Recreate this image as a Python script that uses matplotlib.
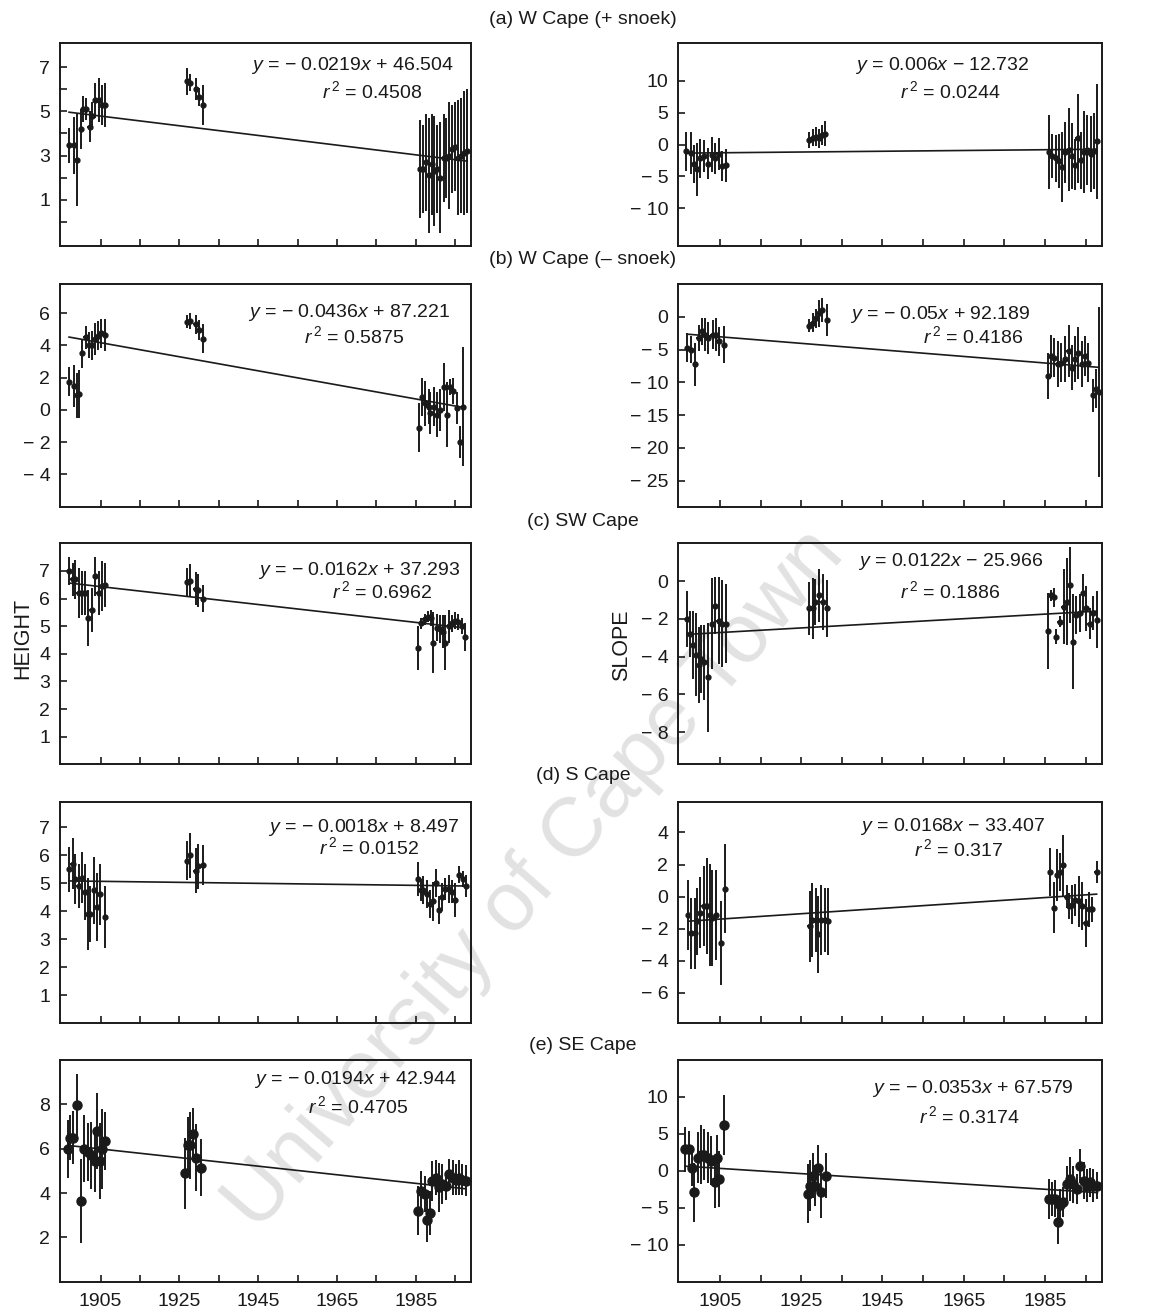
import matplotlib
matplotlib.use("Agg")
import matplotlib.pyplot as plt
import numpy as np
from matplotlib.ticker import FixedLocator, FuncFormatter

plt.rcParams["font.family"] = ["Liberation Sans", "DejaVu Sans"]
plt.rcParams["mathtext.fontset"] = "custom"
plt.rcParams["mathtext.rm"] = "Liberation Sans"
plt.rcParams["mathtext.it"] = "Liberation Sans:italic"

# ---- data ------------------------------------------------------------------
# (a) W Cape (+ snoek)
a_h_year = [1897.0, 1898.3, 1898.9, 1900.0, 1900.6, 1901.4, 1902.2, 1902.9, 1903.7, 1904.5, 1905.3, 1906.1,
            1926.9, 1927.7, 1929.3, 1929.9, 1931.1,
            1986.0, 1986.8, 1987.5, 1988.2, 1989.0, 1989.7, 1990.4, 1991.2, 1992.0, 1992.7, 1993.4, 1994.2,
            1995.0, 1995.7, 1996.5, 1997.3, 1998.0]
a_h_val = [3.46, 3.46, 2.8, 4.2, 5.1, 5.1, 4.3, 4.8, 5.5, 5.5, 5.3, 5.3,
           6.35, 6.3, 6.0, 5.65, 5.3,
           2.4, 2.4, 2.7, 2.1, 2.6, 2.3, 2.4, 2.0, 2.9, 2.9, 3.0, 3.3, 3.4, 2.9, 3.0, 3.1, 3.2]
a_h_err = [0.8, 1.3, 2.1, 0.9, 0.6, 0.5, 0.7, 0.6, 0.8, 1.0, 0.9, 1.0,
           0.6, 0.4, 0.5, 0.4, 0.9,
           2.2, 2.0, 2.2, 2.6, 2.3, 2.5, 2.0, 2.5, 2.0, 1.8, 2.4, 2.0, 2.0, 2.6, 2.6, 2.8, 2.8]

a_s_year = [1896.7, 1897.8, 1898.6, 1899.4, 1900.2, 1901.1, 1902.1, 1903.1, 1903.9, 1904.7, 1905.6, 1906.4,
            1927.0, 1927.8, 1928.6, 1929.4, 1930.2, 1930.9,
            1986.0, 1986.8, 1987.6, 1988.4, 1989.2, 1990.0, 1990.8, 1991.6, 1992.4, 1993.0, 1993.8, 1994.6,
            1995.4, 1996.2, 1997.0, 1997.8]
a_s_val = [-1.1, -1.3, -3.0, -3.9, -2.2, -1.8, -3.0, -1.6, -2.2, -1.5, -3.4, -3.3,
           0.7, 1.1, 1.2, 1.0, 1.5, 1.7,
           -1.2, -1.8, -2.2, -2.6, -3.5, -1.2, -0.8, -1.8, -3.2, 1.0, -2.5, -1.2, -0.8, -1.5, -1.0, 0.5]
a_s_err = [3.0, 3.3, 3.0, 4.2, 3.0, 2.5, 2.5, 2.8, 2.5, 2.5, 2.3, 2.6,
           1.2, 1.3, 1.5, 1.5, 1.6, 2.0,
           5.8, 3.5, 3.7, 4.2, 5.5, 4.8, 6.5, 5.2, 4.0, 7.0, 4.5, 6.5, 5.5, 6.0, 6.0, 9.0]

# (b) W Cape (- snoek)
b_h_year = [1897.0, 1898.3, 1898.9, 1899.4, 1900.4, 1901.2, 1902.1, 1902.7, 1903.5, 1904.4, 1905.2, 1906.0,
            1926.9, 1927.8, 1929.1, 1929.9, 1931.1,
            1985.7, 1986.5, 1987.3, 1988.2, 1988.7, 1989.5, 1990.4, 1991.2, 1992.2, 1993.0, 1993.7, 1994.5,
            1995.4, 1996.2, 1997.0]
b_h_val = [1.75, 1.45, 0.9, 1.0, 3.5, 4.5, 4.0, 4.0, 4.4, 4.6, 4.75, 4.65,
           5.45, 5.5, 5.3, 4.95, 4.4,
           -1.1, 0.8, 0.4, 0.2, -0.2, 0.2, -0.3, 0.0, 1.4, -0.3, 1.4, 1.15, 0.1, -2.0, 0.2]
b_h_err = [0.9, 1.3, 1.4, 1.5, 0.9, 0.7, 0.8, 0.9, 1.0, 0.9, 0.9, 1.0,
           0.4, 0.5, 0.6, 0.6, 0.9,
           1.5, 1.2, 1.4, 1.1, 1.3, 1.2, 1.4, 1.3, 1.5, 2.0, 0.5, 0.8, 1.0, 1.0, 3.7]

b_s_year = [1896.9, 1898.0, 1899.0, 1899.8, 1900.6, 1901.4, 1902.2, 1903.2, 1904.0, 1904.8, 1906.1,
            1927.0, 1927.8, 1928.6, 1929.5, 1930.1, 1931.4,
            1985.7, 1986.5, 1987.3, 1988.1, 1989.0, 1990.0, 1990.8, 1991.6, 1992.4, 1993.2, 1994.1, 1994.9,
            1995.7, 1996.8, 1997.6, 1998.2]
b_s_val = [-4.75, -5.0, -7.25, -3.25, -2.25, -2.75, -3.25, -2.75, -2.75, -3.75, -4.25,
           -1.4, -0.9, -0.25, 0.5, 1.0, -0.5,
           -9.0, -6.0, -6.25, -7.25, -7.0, -6.5, -5.25, -7.75, -6.5, -5.5, -7.25, -6.0, -7.0, -12.0, -11.0, -11.5]
b_s_err = [2.2, 2.0, 3.3, 2.0, 2.0, 2.5, 2.5, 2.2, 2.5, 2.2, 2.8,
           1.0, 1.5, 1.5, 2.0, 1.8, 2.5,
           3.5, 3.2, 3.0, 3.5, 3.0, 3.5, 4.0, 3.5, 3.5, 4.0, 3.5, 3.0, 3.0, 2.5, 3.0, 13.0]

# (c) SW Cape
c_h_year = [1897.0, 1897.9, 1898.5, 1899.4, 1900.2, 1901.0, 1901.9, 1902.7, 1903.7, 1904.5, 1905.3, 1906.0,
            1926.9, 1927.7, 1929.1, 1929.8, 1930.9,
            1985.5, 1986.4, 1987.2, 1988.0, 1988.9, 1989.4, 1990.3, 1991.1, 1991.9, 1992.5, 1993.3, 1994.2,
            1995.0, 1995.8, 1996.7, 1997.5]
c_h_val = [7.0, 6.7, 6.7, 6.2, 6.2, 6.2, 5.3, 5.6, 6.8, 6.2, 6.45, 6.5,
           6.6, 6.65, 6.35, 6.3, 6.0,
           4.2, 5.1, 5.25, 5.35, 5.3, 4.4, 4.95, 4.9, 4.8, 4.4, 5.0, 5.1, 5.2, 5.15, 5.0, 4.6]
c_h_err = [0.5, 0.6, 0.7, 0.9, 0.8, 0.8, 1.0, 0.8, 0.7, 0.8, 0.9, 0.8,
           0.5, 0.6, 0.6, 0.6, 0.5,
           0.8, 0.2, 0.2, 0.2, 0.3, 1.1, 0.5, 0.5, 0.6, 1.0, 0.6, 0.3, 0.3, 0.3, 0.3, 0.5]

c_s_year = [1896.9, 1897.7, 1898.4, 1899.2, 1899.8, 1900.4, 1901.2, 1902.1, 1903.1, 1903.9, 1904.7, 1905.6, 1906.4,
            1927.0, 1927.8, 1928.4, 1929.4, 1930.3, 1931.3,
            1985.8, 1986.5, 1987.2, 1987.8, 1988.6, 1989.6, 1990.3, 1991.1, 1991.9, 1992.7, 1993.6, 1994.4,
            1995.2, 1996.0, 1996.8, 1997.8]
c_s_val = [-2.0, -2.8, -3.4, -3.9, -4.45, -4.1, -4.3, -5.1, -2.25, -1.3, -2.1, -2.25, -2.25,
           -1.45, -1.45, -1.1, -0.75, -1.1, -1.45,
           -2.65, -0.75, -0.85, -2.95, -2.15, -1.35, -1.1, -0.2, -3.2, -1.8, -1.7, -0.65, -1.45, -2.25, -1.7, -2.05]
c_s_err = [1.5, 1.2, 1.8, 2.2, 2.0, 1.8, 2.0, 2.9, 2.4, 1.5, 2.3, 2.3, 2.1,
           1.4, 1.6, 1.2, 1.4, 1.5, 1.5,
           2.0, 0.3, 0.5, 0.4, 0.3, 2.0, 2.3, 2.0, 2.5, 1.0, 1.0, 1.0, 1.2, 0.8, 0.9, 1.5]

# (d) S Cape
d_h_year = [1897.0, 1897.9, 1898.5, 1899.4, 1900.2, 1901.0, 1901.7, 1902.4, 1903.3, 1904.1, 1904.9, 1906.1,
            1926.9, 1927.7, 1929.1, 1929.8, 1931.1,
            1985.5, 1986.2, 1986.9, 1987.7, 1988.6, 1989.4, 1990.0, 1990.8, 1991.6, 1992.5, 1993.3, 1994.1,
            1995.0, 1996.0, 1996.9, 1997.7]
d_h_val = [5.5, 5.7, 5.15, 4.9, 5.2, 4.7, 3.9, 3.9, 4.75, 4.15, 4.6, 3.8,
           5.8, 6.0, 5.45, 5.6, 5.65,
           5.15, 4.75, 4.75, 4.6, 4.25, 4.35, 5.0, 4.05, 4.5, 4.8, 4.8, 4.7, 4.4, 5.3, 5.15, 4.9]
d_h_err = [0.8, 0.9, 0.9, 0.8, 0.9, 1.0, 1.3, 1.0, 1.2, 1.2, 1.1, 1.1,
           0.7, 0.8, 0.8, 0.8, 0.7,
           0.6, 0.4, 0.5, 0.5, 0.5, 0.7, 0.5, 0.5, 0.5, 0.4, 0.5, 0.4, 0.6, 0.3, 0.3, 0.4]

d_s_year = [1897.2, 1898.0, 1898.8, 1899.4, 1900.2, 1901.0, 1901.8, 1902.5, 1903.1, 1904.0, 1905.3, 1906.2,
            1927.1, 1927.7, 1928.6, 1929.1, 1929.9, 1930.8, 1931.6,
            1986.2, 1987.2, 1988.0, 1988.8, 1989.5, 1990.3, 1990.9, 1991.7, 1992.5, 1993.3, 1994.2, 1995.0,
            1995.8, 1996.6, 1997.7]
d_s_val = [-1.15, -2.3, -2.3, -1.55, -1.0, -0.6, -0.6, -1.15, -1.35, -1.15, -2.9, 0.5,
           -1.85, -1.45, -1.45, -2.35, -1.45, -1.45, -1.55,
           1.55, -0.7, 1.35, 1.55, 1.95, 0.0, -0.6, -0.5, -0.2, -0.3, -0.6, -1.65, -0.8, -0.8, 1.55]
d_s_err = [2.2, 2.2, 2.2, 2.1, 2.2, 2.5, 3.0, 3.2, 3.0, 2.8, 2.6, 2.8,
           2.2, 2.3, 2.0, 2.4, 2.2, 2.0, 2.1,
           1.5, 1.6, 1.6, 1.2, 1.9, 0.7, 0.8, 1.2, 1.0, 1.6, 1.5, 1.5, 1.1, 0.8, 0.7]

# (e) SE Cape
e_h_year = [1896.7, 1897.3, 1898.1, 1899.0, 1900.1, 1900.9, 1901.8, 1902.6, 1903.5, 1904.1, 1904.8, 1905.4, 1906.0,
            1926.4, 1927.1, 1927.8, 1928.4, 1929.3, 1930.4,
            1985.5, 1986.4, 1987.2, 1987.9, 1988.6, 1989.2, 1990.0, 1990.9, 1991.7, 1992.6, 1993.4, 1994.3,
            1995.1, 1995.9, 1996.8, 1997.6]
e_h_val = [6.0, 6.5, 6.5, 7.95, 3.65, 6.0, 5.85, 5.7, 5.45, 6.8, 5.45, 6.0, 6.35,
           4.9, 6.15, 6.15, 6.65, 5.6, 5.15,
           3.2, 4.1, 3.95, 2.8, 3.1, 4.55, 4.7, 4.25, 4.4, 4.3, 4.85, 4.7, 4.6, 4.7, 4.6, 4.55]
e_h_err = [1.3, 1.0, 1.2, 1.4, 1.9, 1.5, 1.3, 1.5, 1.4, 1.7, 1.7, 1.8, 1.3,
           1.6, 1.3, 1.5, 1.2, 1.5, 1.3,
           1.1, 0.9, 0.8, 1.0, 1.0, 0.9, 0.8, 1.1, 0.9, 0.6, 0.7, 0.8, 0.7, 0.8, 0.7, 0.7]

e_s_year = [1896.5, 1897.5, 1898.2, 1898.7, 1899.5, 1900.4, 1901.2, 1902.0, 1902.8, 1903.7, 1904.2, 1904.9, 1905.9,
            1926.6, 1927.3, 1927.9, 1928.5, 1929.2, 1929.8, 1931.0,
            1985.9, 1986.7, 1987.5, 1988.2, 1988.7, 1989.5, 1990.4, 1991.2, 1992.0, 1992.8, 1993.6, 1994.5,
            1995.3, 1996.1, 1996.9, 1997.9]
e_s_val = [2.9, 2.9, 0.45, -2.9, 1.8, 2.2, 2.2, 1.8, 1.35, -1.55, 1.8, -1.1, 6.2,
           -3.1, -2.0, -0.65, -2.0, 0.45, -2.9, -0.65,
           -3.8, -3.8, -3.8, -6.9, -4.65, -4.2, -1.8, -1.1, -1.8, -2.45, 0.65, -1.35, -2.0, -1.55, -2.0, -2.0]
e_s_err = [3.0, 2.5, 2.5, 4.0, 3.5, 4.0, 3.5, 3.5, 3.3, 3.5, 3.0, 3.8, 4.0,
           4.0, 3.5, 3.0, 2.8, 3.0, 3.5, 3.0,
           2.7, 2.3, 2.5, 3.0, 2.2, 2.0, 2.5, 3.0, 2.5, 2.0, 2.3, 2.5, 2.2, 2.0, 2.2, 1.8]

# regression results printed on each panel
height_slope = [-0.0219, -0.0436, -0.0162, -0.0018, -0.0194]
height_icpt = [46.504, 87.221, 37.293, 8.497, 42.944]
height_r2 = ["0.4508", "0.5875", "0.6962", "0.0152", "0.4705"]
slope_slope = [0.006, -0.05, 0.0122, 0.0168, -0.0353]
slope_icpt = [-12.732, 92.189, -25.966, -33.407, 67.579]
slope_r2 = ["0.0244", "0.4186", "0.1886", "0.317", "0.3174"]

row_titles = ["(a) W Cape (+ snoek)", "(b) W Cape (\u2013 snoek)", "(c) SW Cape", "(d) S Cape", "(e) SE Cape"]
year_labels = [1905, 1925, 1945, 1965, 1985]
year_minor = [1915, 1935, 1955, 1975, 1995]

height_sets = [(a_h_year, a_h_val, a_h_err), (b_h_year, b_h_val, b_h_err), (c_h_year, c_h_val, c_h_err),
               (d_h_year, d_h_val, d_h_err), (e_h_year, e_h_val, e_h_err)]
slope_sets = [(a_s_year, a_s_val, a_s_err), (b_s_year, b_s_val, b_s_err), (c_s_year, c_s_val, c_s_err),
              (d_s_year, d_s_val, d_s_err), (e_s_year, e_s_val, e_s_err)]

# ---- layout (pixels of a 1165 x 1316 canvas) -------------------------------
W, H = 1165, 1316
row_top = [42.7, 284, 543.3, 802, 1060]
row_bot = [246.3, 506.7, 764.3, 1023.3, 1281.7]
title_y = [20, 259, 521, 776, 1045]
col_left = [60, 678]
col_width = [410.7, 423.5]

height_ylim = [(-1.1, 8.1), (-6, 7.8), (0, 8), (0, 7.9), (0, 10)]
slope_ylim = [(-16, 16), (-29, 5), (-9.7, 2), (-7.9, 5.9), (-15, 15)]
height_ticks = [[1, 3, 5, 7], [-4, -2, 0, 2, 4, 6], [1, 2, 3, 4, 5, 6, 7], [1, 2, 3, 4, 5, 6, 7], [2, 4, 6, 8]]
height_minor = [[0, 2, 4, 6], [], [], [], []]
slope_ticks = [[-10, -5, 0, 5, 10], [-25, -20, -15, -10, -5, 0], [-8, -6, -4, -2, 0],
               [-6, -4, -2, 0, 2, 4], [-10, -5, 0, 5, 10]]
# (line-1 centre, line-2 centre) in axes fractions
height_eq_pos = [((0.713, 0.89), (0.76, 0.762)), ((0.704, 0.872), (0.716, 0.768)),
                 ((0.728, 0.879), (0.784, 0.784)), ((0.74, 0.887), (0.752, 0.794)),
                 ((0.718, 0.91), (0.726, 0.793))]
slope_eq_pos = [((0.623, 0.89), (0.644, 0.762)), ((0.619, 0.862), (0.698, 0.765)),
                ((0.643, 0.917), (0.643, 0.784)), ((0.648, 0.891), (0.664, 0.786)),
                ((0.697, 0.872), (0.689, 0.747))]

INK = "#1a1a1a"
FS = 14


def tick_fmt(v, _pos):
    v = int(round(v))
    return f"\u2212 {abs(v)}" if v < 0 else f"{v}"


def eq_text(m, b):
    s = "$y$ = "
    if m < 0:
        s += "\u2212 "
    s += f"{abs(m):g}$x$"
    s += " + " if b >= 0 else " \u2212 "
    return s + f"{abs(b):.3f}"


def draw_panel(ax, data, m, b, r2, ylim, yticks, yminor, eq_pos, bottom_row, big):
    year, val, err = (np.asarray(v, dtype=float) for v in data)
    ax.set_facecolor("none")
    ax.errorbar(year, val, yerr=err, xerr=0.55, fmt="o", color=INK, ms=6.5 if big else 3.5,
                elinewidth=1.4, capsize=0, zorder=3)
    xs = np.array([year.min(), year.max()])
    ax.plot(xs, m * xs + b, color=INK, lw=1.2, zorder=2)

    ax.set_xlim(1894.7, 1998.9)
    ax.set_ylim(*ylim)
    ax.xaxis.set_major_locator(FixedLocator(year_labels))
    ax.xaxis.set_minor_locator(FixedLocator(year_minor))
    ax.yaxis.set_major_locator(FixedLocator(yticks))
    ax.yaxis.set_minor_locator(FixedLocator(yminor))
    ax.yaxis.set_major_formatter(FuncFormatter(tick_fmt))
    ax.tick_params(which="both", direction="in", length=5, width=1.2, colors=INK,
                   labelsize=FS, top=False, right=False)
    ax.tick_params(axis="y", pad=7)
    ax.tick_params(axis="x", pad=8, labelbottom=bottom_row)
    for sp in ax.spines.values():
        sp.set_linewidth(1.4)
        sp.set_color(INK)

    (x1, y1), (x2, y2) = eq_pos
    ax.text(x1, y1, eq_text(m, b), transform=ax.transAxes, ha="center", va="center",
            fontsize=FS, color=INK)
    ax.text(x2, y2, f"$r^{{\\,2}}$ = {r2}", transform=ax.transAxes, ha="center", va="center",
            fontsize=FS, color=INK)


fig = plt.figure(figsize=(W / 100, H / 100), dpi=100)

# watermark of the source document, behind the panels
fig.text(535 / W, 1 - 880 / H, "University of Cape Town", rotation=49, fontsize=60,
         color="#e2e2e2", ha="center", va="center", rotation_mode="anchor", zorder=-1)

for i in range(5):
    bottom = 1 - row_bot[i] / H
    height = (row_bot[i] - row_top[i]) / H
    ax_h = fig.add_axes([col_left[0] / W, bottom, col_width[0] / W, height])
    ax_s = fig.add_axes([col_left[1] / W, bottom, col_width[1] / W, height])
    draw_panel(ax_h, height_sets[i], height_slope[i], height_icpt[i], height_r2[i],
               height_ylim[i], height_ticks[i], height_minor[i], height_eq_pos[i], i == 4, i == 4)
    draw_panel(ax_s, slope_sets[i], slope_slope[i], slope_icpt[i], slope_r2[i],
               slope_ylim[i], slope_ticks[i], [], slope_eq_pos[i], i == 4, i == 4)
    fig.text(583 / W, 1 - title_y[i] / H, row_titles[i], ha="center", va="center",
             fontsize=FS, color=INK)

fig.text(23 / W, 1 - 638 / H, "HEIGHT", rotation=90, ha="center", va="center", fontsize=15.5, color=INK)
fig.text(622 / W, 1 - 645 / H, "SLOPE", rotation=90, ha="center", va="center", fontsize=15.5, color=INK)

fig.savefig("out.png", dpi=100)
